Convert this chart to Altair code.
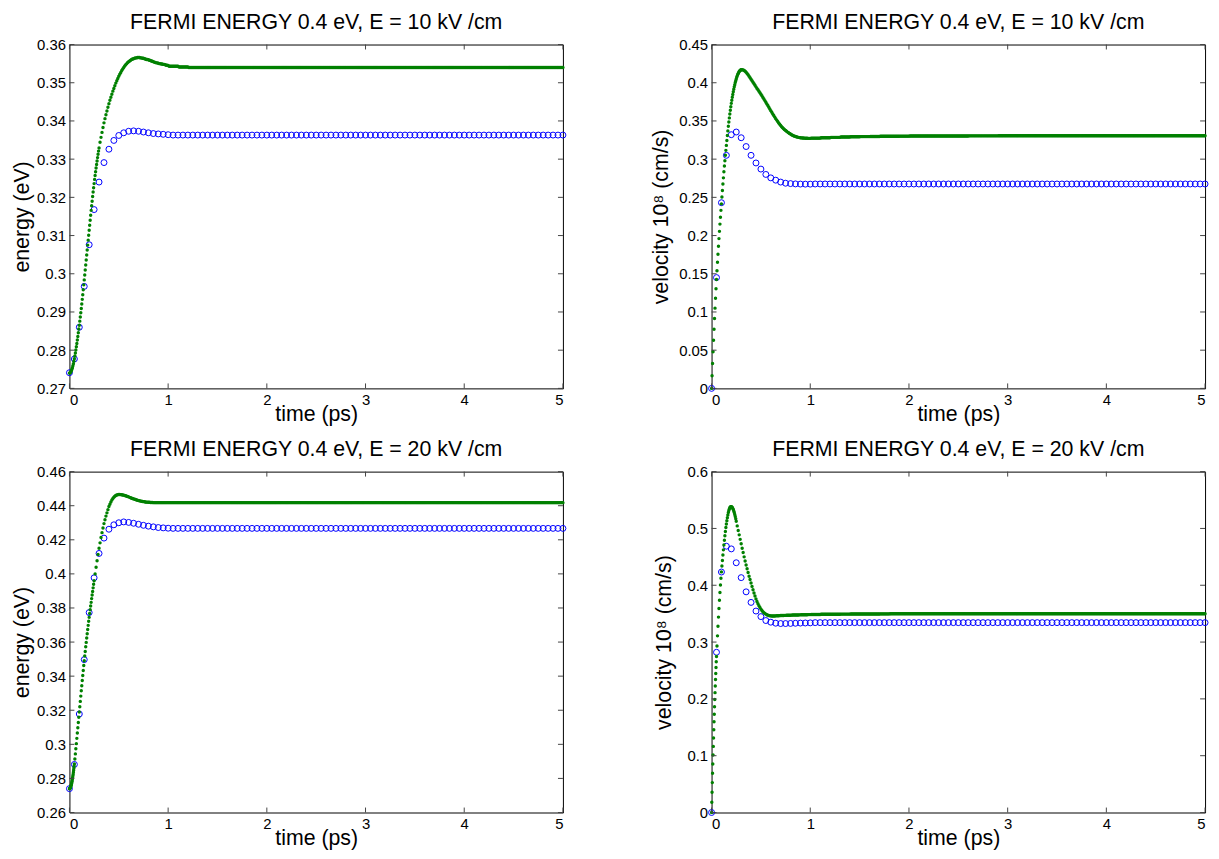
import altair as alt
import pandas as pd

# ---------------- data ----------------
# Green (dense) series: values on a time grid that is finer at the start
# (GRID_AB for the 10 kV/cm run, GRID_CD for the 20 kV/cm run) up to 1.00 ps,
# then one value per 0.1 ps interval from 1.0 to 5.0 ps (tail).
# Blue (open circles): one value every 0.05 ps up to 1.00 ps, then a flat level.

GRID_AB = [(0.0, 0.30, 0.005), (0.31, 1.00, 0.01)]
GRID_CD = [(0.0, 0.05, 0.0025), (0.055, 0.25, 0.005), (0.26, 1.00, 0.01)]

# Panel A: energy, E = 10 kV/cm
A_green_head = [
    .2740, .27404, .27417, .27437, .27465, .27500, .27542, .27592, .27647, .27709,
    .27777, .27850, .27927, .28007, .28090, .28177, .28267, .28360, .28455, .28553,
    .28653, .2876, .2887, .2898, .2909, .2921, .2933, .2945, .2958, .2971,
    .2984, .2997, .3010, .3023, .3036, .3049, .3062, .3075, .3088, .3101,
    .3114, .3127, .3140, .3153, .3166, .3178, .3190, .3202, .3214, .3225,
    .3236, .3247, .3257, .3267, .3277, .3286, .3295, .3304, .3313, .3321,
    .3329,
    .3344, .3357, .3370, .3383, .3395, .3406, .3416, .3426, .3436,
    .3445, .3454, .3462, .3470, .3478, .3485, .3492, .3499, .3505, .3511,
    .3517, .3522, .3527, .3532, .3536, .3540, .3544, .3547, .3550, .3553,
    .3555, .3557, .3559, .3561, .3562, .3563, .3564, .3565, .3565, .3566,
    .3566, .3566, .3565, .3565, .3564, .3564, .3563, .3562, .3561, .3561,
    .3560, .3559, .3558, .3557, .3556, .3555, .3554, .3553, .3552, .3552,
    .3551, .3550, .3550, .3549, .3549, .3548, .3548, .3547, .3546, .3546, .3545,
]
A_green_tail = [.3543, .3541] + [.3540] * 38
A_blue_head = [.2741, .2777, .2860, .2967, .3076, .3168, .3240, .3291, .3326, .3349,
               .3362, .3369, .3373, .3374, .3373, .3371, .3369, .3367, .3366, .3365, .3364]
A_blue_level = .3363

# Panel B: velocity, E = 10 kV/cm
B_green_head = [
    0.000, 0.0165, 0.0325, 0.048, 0.063, 0.0775, 0.0915, 0.105, 0.118, 0.1305,
    0.1425, 0.154, 0.165, 0.1755, 0.186, 0.196, 0.2055, 0.215, 0.224, 0.233,
    0.2415, 0.2505, 0.259, 0.2675, 0.2755, 0.2835, 0.291, 0.298, 0.305, 0.3115,
    0.318, 0.3245, 0.331, 0.337, 0.343, 0.3485, 0.354, 0.359, 0.364, 0.3685,
    0.373, 0.377, 0.381, 0.3847, 0.3882, 0.3915, 0.3946, 0.3975, 0.4002, 0.4027,
    0.4050, 0.4071, 0.4090, 0.4107, 0.4122, 0.4135, 0.4146, 0.4155, 0.4162, 0.4167,
    0.4170,
    .4171, .4168, .4161, .4151, .4138, .4122, .4105, .4086, .4066,
    .4046, .4026, .4006, .3986, .3966, .3946, .3926, .3907, .3888, .3869,
    .3850, .3829, .3808, .3787, .3766, .3745, .3723, .3701, .3679, .3657,
    .3635, .3613, .3592, .3571, .3550, .3530, .3511, .3492, .3474, .3457,
    .3440, .3425, .3411, .3398, .3386, .3375, .3364, .3354, .3345, .3336,
    .3328, .3320, .3313, .3307, .3301, .3296, .3292, .3288, .3285, .3282,
    .3280, .3278, .3277, .3276, .3275, .3274, .3273, .3273, .3272, .3272, .3272,
]
B_green_tail = [.3275, .3280, .3285, .3289, .3292, .3295, .3297, .3299, .3300, .3301,
                .3302, .3302, .3303, .3303, .3304, .3304, .3305, .3305, .3305, .3306] + [.3306] * 20
B_blue_head = [0.0, 0.145, 0.243, 0.305, 0.332, 0.3355, 0.328, 0.3165, 0.305, 0.295,
               0.287, 0.280, 0.2755, 0.2725, 0.270, 0.2685, 0.268, 0.2676, 0.2674, 0.2673, 0.2673]
B_blue_level = 0.2675

# Panel C: energy, E = 20 kV/cm
C_green_head = [
    .2740, .2740, .2742, .2744, .2747, .2750, .2755, .2760, .2765, .2772,
    .2779, .2787, .2796, .2805, .2815, .2825, .2836, .2848, .2860, .2872, .2885,
    .2914, .2944, .2974, .3004, .3035, .3066, .3097, .3128, .3159, .3190,
    .3221, .3252, .3283, .3314, .3344, .3374, .3404, .3433, .3462, .3490,
    .3518, .3545, .3572, .3598, .3624, .3649, .3674, .3698, .3722, .3745,
    .3768, .3790, .3812, .3833, .3855, .3876, .3897, .3918, .3939, .3960,
    .4000, .4039, .4077, .4114,
    .4150, .4182, .4213, .4242, .4269, .4295, .4318, .4339, .4358, .4377,
    .4395, .4409, .4422, .4433, .4442, .4450, .4456, .4460, .4463, .4465,
    .4466, .4466, .4465, .4464, .4463, .4462, .4460, .4458, .4456, .4454,
    .4452, .4449, .4447, .4444, .4442, .4440, .4438, .4436, .4434, .4432,
    .4430, .4429, .4427, .4426, .4425, .4424, .4423, .4422, .4421, .4421,
    .4420, .4420, .4419, .4419, .4419, .4418, .4418, .4418, .4418, .4418,
    .4418, .4418, .4418, .4418, .4418, .4418, .4418, .4418, .4418, .4418, .4418,
]
C_green_tail = [.4418] * 40
C_blue_head = [.2740, .2882, .3178, .3497, .3773, .3977, .4120, .4210, .4262, .4288,
               .4300, .4305, .4302, .4297, .4291, .4285, .4280, .4276, .4272, .4270, .4268]
C_blue_level = .4267

# Panel D: velocity, E = 20 kV/cm
D_green_head = [
    0.000, .0180, .0355, .0526, .0692, .0854, .1011, .1164, .1312, .1456,
    .1596, .1731, .1862, .1988, .2110, .2227, .2340, .2448, .2552, .2652, .2747,
    .2932, .3109, .3278, .3439, .3592, .3737, .3874, .4003, .4123, .4235,
    .4338, .4437, .4532, .4623, .4710, .4793, .4872, .4946, .5015, .5079,
    .5137, .5190, .5238, .5281, .5316, .5344, .5364, .5377, .5383, .5383,
    .5378, .5368, .5353, .5333, .5308, .5279, .5246, .5209, .5169, .5126,
    .5045, .4965, .4887, .4808,
    .4730, .4652, .4575, .4500, .4427, .4357, .4290, .4225, .4160, .4100,
    .4040, .3980, .3920, .3865, .3810, .3760, .3715, .3675, .3640, .3610,
    .3580, .3555, .3535, .3518, .3504, .3492, .3482, .3474, .3468, .3464,
    .3461, .3460, .3459, .3459, .3460, .3461, .3462, .3463, .3464, .3465,
    .3466, .3467, .3468, .3469, .3470, .3470, .3471, .3472, .3472, .3473,
    .3473, .3474, .3475, .3475, .3476, .3477, .3477, .3478, .3478, .3479,
    .3479, .3480, .3480, .3481, .3481, .3482, .3482, .3482, .3483, .3483, .3483,
]
D_green_tail = [.3486, .3488, .3490, .3492, .3493, .3494, .3495, .3496] + [.3497] * 32
D_blue_head = [0.0, 0.282, 0.4233, 0.4687, 0.464, 0.4396, 0.4134, 0.3884, 0.3698, 0.3546,
               0.3448, 0.3379, 0.335, 0.3332, 0.3326, 0.3326, 0.3328, 0.3331, 0.3334, 0.3336, 0.3338]
D_blue_level = 0.3342

TITLES = ["FERMI ENERGY 0.4 eV, E = 10 kV /cm", "FERMI ENERGY 0.4 eV, E = 10 kV /cm",
          "FERMI ENERGY 0.4 eV, E = 20 kV /cm", "FERMI ENERGY 0.4 eV, E = 20 kV /cm"]
YTITLES = ["energy (eV)", "velocity 10\u2078 (cm/s)", "energy (eV)", "velocity 10\u2078 (cm/s)"]
YDOMAINS = [[0.27, 0.36], [0.0, 0.45], [0.26, 0.46], [0.0, 0.6]]
YTICKS = [
    [0.27, 0.28, 0.29, 0.30, 0.31, 0.32, 0.33, 0.34, 0.35, 0.36],
    [0.0, 0.05, 0.10, 0.15, 0.20, 0.25, 0.30, 0.35, 0.40, 0.45],
    [0.26, 0.28, 0.30, 0.32, 0.34, 0.36, 0.38, 0.40, 0.42, 0.44, 0.46],
    [0.0, 0.1, 0.2, 0.3, 0.4, 0.5, 0.6],
]
XTICKS = [0, 1, 2, 3, 4, 5]
YTITLE_PAD = [3, 6, 3, 12]

FONT = "Liberation Sans"
TITLE_SIZE = 21.5
W = 498
HEIGHTS = [347, 347, 344, 344]
GREEN = "#008000"
BLUE = "#0000ff"
TICK = "#444444"


def grid_times(segments):
    out = []
    for start, stop, step in segments:
        n = int(round((stop - start) / step)) + 1
        out += [round(start + k * step, 4) for k in range(n)]
    return out


def build_green(grid, head, tail):
    t = grid_times(grid)
    assert len(t) == len(head), (len(t), len(head))
    v = list(head)
    for k, val in enumerate(tail):
        for j in range(1, 11):
            t.append(round(1.0 + 0.1 * k + 0.01 * j, 2))
            v.append(val)
    return pd.DataFrame({"t": t, "v": v})


def build_blue(head, level):
    t = [round(i * 0.05, 2) for i in range(101)]
    v = list(head) + [level] * (101 - len(head))
    return pd.DataFrame({"t": t, "v": v})


def panel(i, grid, ghead, gtail, bhead, blevel):
    H = HEIGHTS[i]
    xs = alt.Scale(domain=[0, 5], nice=False, zero=False)
    ys = alt.Scale(domain=YDOMAINS[i], nice=False, zero=False)
    xax = alt.Axis(values=XTICKS, title="time (ps)", ticks=False, domain=False, grid=False,
                   labelPadding=4, titlePadding=-4, format="~g", labelOverlap=False)
    yax = alt.Axis(values=YTICKS[i], title=YTITLES[i], ticks=False, domain=False, grid=False,
                   labelPadding=4, titlePadding=YTITLE_PAD[i], format="~g", labelOverlap=False)
    X = alt.X("t:Q", scale=xs, axis=xax)
    Y = alt.Y("v:Q", scale=ys, axis=yax)

    blue = alt.Chart(build_blue(bhead, blevel)).mark_point(
        shape="circle", filled=False, color=BLUE, size=36, strokeWidth=1, opacity=1
    ).encode(x=X, y=Y)

    green = alt.Chart(build_green(grid, ghead, gtail)).mark_circle(
        color=GREEN, size=12, opacity=1
    ).encode(x=X, y=Y)

    xt = pd.DataFrame({"t": XTICKS})
    yt = pd.DataFrame({"v": YTICKS[i]})
    tb = alt.Chart(xt).mark_rule(color=TICK, strokeWidth=1).encode(
        x=X, y=alt.value(H), y2=alt.value(H - 5))
    tt = alt.Chart(xt).mark_rule(color=TICK, strokeWidth=1).encode(
        x=X, y=alt.value(0), y2=alt.value(5))
    tl = alt.Chart(yt).mark_rule(color=TICK, strokeWidth=1).encode(
        y=Y, x=alt.value(0), x2=alt.value(5))
    tr = alt.Chart(yt).mark_rule(color=TICK, strokeWidth=1).encode(
        y=Y, x=alt.value(W), x2=alt.value(W - 5))

    return alt.layer(blue, green, tb, tt, tl, tr).properties(
        width=W, height=H,
        title=alt.TitleParams(TITLES[i], fontSize=TITLE_SIZE, font=FONT, fontWeight="normal",
                              color="black", offset=4, frame="group"),
    )


charts = [
    panel(0, GRID_AB, A_green_head, A_green_tail, A_blue_head, A_blue_level),
    panel(1, GRID_AB, B_green_head, B_green_tail, B_blue_head, B_blue_level),
    panel(2, GRID_CD, C_green_head, C_green_tail, C_blue_head, C_blue_level),
    panel(3, GRID_CD, D_green_head, D_green_tail, D_blue_head, D_blue_level),
]

chart = alt.concat(*charts, columns=2,
                   spacing=alt.RowColnumber(row=14, column=82)).properties(
    padding={"left": 3, "top": 0, "right": 0, "bottom": 0}, background="white"
).configure_view(
    stroke="black", strokeWidth=1
).configure_axis(
    labelFont=FONT, titleFont=FONT, labelFontSize=15, titleFontSize=TITLE_SIZE,
    labelColor="black", titleColor="black", titleFontWeight="normal",
    labelOverlap=False
)

chart.save("out.html", embed_options={"renderer": "svg", "actions": False})
